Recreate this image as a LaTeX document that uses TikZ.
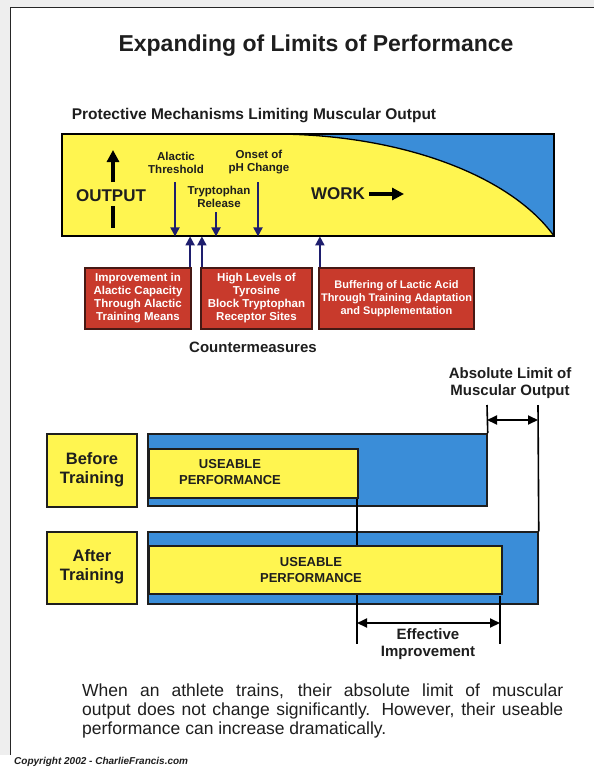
\documentclass[tikz,border=0pt]{standalone}
\usepackage{fontspec}
\setmainfont{Liberation Sans}
\usetikzlibrary{arrows.meta}
\definecolor{yel}{RGB}{255,245,80}
\definecolor{blu}{RGB}{58,141,216}
\definecolor{redf}{RGB}{200,58,44}
\definecolor{redb}{RGB}{70,25,20}
\definecolor{navy}{RGB}{30,30,110}
\definecolor{txt}{RGB}{30,30,30}
\definecolor{pagegray}{RGB}{238,238,238}
\newcommand{\fsz}[2]{\fontsize{#1}{#2}\selectfont}
\begin{document}
\begin{tikzpicture}[x=1pt,y=-1pt,
  ttl/.style={font=\bfseries\fsz{23}{27}, text=txt, inner sep=0},
  hd/.style={font=\bfseries\fsz{15.5}{18}, text=txt, inner sep=0},
  big/.style={font=\bfseries\fsz{17}{20}, text=txt, inner sep=0},
  lbl/.style={font=\bfseries\fsz{11.5}{13}, text=txt, align=center, inner sep=0},
  redbox/.style={draw=redb, fill=redf, line width=1.2pt, text=white,
    font=\bfseries\fsz{11.5}{13}, align=center, minimum height=61pt, inner sep=0},
  ybox/.style={draw=txt, fill=yel, line width=1.5pt, inner sep=0},
  bbox/.style={draw=txt, fill=blu, line width=1.5pt, inner sep=0},
  sidelbl/.style={font=\bfseries\fsz{16.5}{19.5}, text=txt, align=center},
  usel/.style={font=\bfseries\fsz{13}{15.5}, text=txt, align=center, inner sep=0},
  lim/.style={font=\bfseries\fsz{15}{17}, text=txt, align=center, inner sep=0},
  navyarr/.style={draw=navy, line width=2pt, -{Triangle[width=9pt,length=9pt]}},
  bigarr/.style={draw=black, line width=4.5pt, -{Triangle[width=12pt,length=12pt]}},
  dbl/.style={draw=black, line width=2pt,
    {Triangle[width=9pt,length=10pt]}-{Triangle[width=9pt,length=10pt]}},
  vline/.style={draw=black, line width=1.6pt},
]
\useasboundingbox (0,0) rectangle (594,768);
% page
\fill[white] (0,0) rectangle (594,768);
\fill[pagegray] (0,0) rectangle (594,7);
\fill[pagegray] (0,0) rectangle (10,755);
\draw[line width=1.5pt, black!85] (594,7.5) -- (10.5,7.5) -- (10.5,755);

% titles
\node[ttl] (title) at (316,46) {Expanding of Limits of Performance};
\node[hd] (pm) at (254,116) {Protective Mechanisms Limiting Muscular Output};

% top box
\node[fill=yel, minimum width=492pt, minimum height=102pt, inner sep=0, anchor=north west] (pbox) at (62,134) {};
\fill[blu] (273,134) .. controls (400,134) and (510,175) .. (554,236) -- (554,134) -- cycle;
\draw[line width=1.3pt] (273,134) .. controls (400,134) and (510,175) .. (554,236);
\draw[line width=2pt] (pbox.north west) rectangle (pbox.south east);

\node[big] (outtxt) at (111,196) {OUTPUT};
\coordinate (oa1) at (113,182);
\coordinate (oa2) at (113,150);
\draw[bigarr] (oa1) -- (oa2);
\coordinate (ob1) at (113,206);
\coordinate (ob2) at (113,228);
\draw[line width=4.5pt] (ob1) -- (ob2);

\node[big] (worktxt) at (338,194) {WORK};
\coordinate (wa) at (369,194);
\coordinate (wb) at (404,194);
\draw[bigarr] (wa) -- (wb);

\node[lbl] (alac) at (176,162.5) {Alactic\\Threshold};
\node[lbl] (onset) at (259,162.5) {Onset of\\pH Change};
\node[lbl] (tryp) at (219,197) {Tryptophan\\Release};
\coordinate (alacs) at (175,182);
\coordinate (onsets) at (258,182);
\coordinate (tryps) at (216,212);
\draw[navyarr] (alacs) -- (alacs |- pbox.south);
\draw[navyarr] (onsets) -- (onsets |- pbox.south);
\draw[navyarr] (tryps) -- (tryps |- pbox.south);

% countermeasures
\node[redbox, minimum width=106pt] (r1) at (138,298.5) {Improvement in\\Alactic Capacity\\Through Alactic\\Training Means};
\node[redbox, minimum width=111pt] (r2) at (256.5,298.5) {High Levels of\\Tyrosine\\Block Tryptophan\\Receptor Sites};
\node[redbox, minimum width=155pt, font=\bfseries\fsz{11}{13}] (r3) at (396.5,298.5) {Buffering of Lactic Acid\\Through Training Adaptation\\and Supplementation};
\coordinate (u1) at ([xshift=-1.5pt]r1.north east);
\coordinate (u2) at ([xshift=1.5pt]r2.north west);
\coordinate (u3) at ([xshift=1.5pt]r3.north west);
\draw[navyarr] (u1) -- (u1 |- pbox.south);
\draw[navyarr] (u2) -- (u2 |- pbox.south);
\draw[navyarr] (u3) -- (u3 |- pbox.south);
\node[font=\bfseries\fsz{15}{18}, text=txt, inner sep=0] (counter) at (253,347) {Countermeasures};

% bottom comparison
\node[ybox, minimum width=90pt, minimum height=73pt] (bef) at (92,470.5) {};
\node[sidelbl] (beft) at (92,470) {Before\\Training};
\node[ybox, minimum width=90pt, minimum height=72pt] (aft) at (92,568) {};
\node[sidelbl] (aftt) at (92,567) {After\\Training};

\node[bbox, minimum width=339pt, minimum height=72pt] (bar1) at (317.5,470) {};
\node[bbox, minimum width=390pt, minimum height=72pt] (bar2) at (343,568) {};

\node[lim] (abs) at (510,383.5) {Absolute Limit of\\Muscular Output};
\coordinate (la) at (487,405);
\coordinate (lb) at (538,405);
\draw[vline] (la) -- (bar1.north east);
\draw[vline] (lb) -- (bar2.north east);
\coordinate (da) at (487,420);
\coordinate (db) at (538,420);
\draw[dbl] (da) -- (db);

\coordinate (e1) at (357,644);
\coordinate (e2) at (500,644);
\draw[vline] (357,497) -- (e1);
\draw[vline] (500,596) -- (e2);

\node[ybox, minimum width=209pt, minimum height=49pt, anchor=north west] (use1) at (148,448) {};
\node[ybox, minimum width=353pt, minimum height=48pt, anchor=north west] (use2) at (148,545) {};
\node[usel] (ut1) at (230,472) {USEABLE\\PERFORMANCE};
\node[usel] (ut2) at (311,570) {USEABLE\\PERFORMANCE};

\coordinate (ea) at (357,623);
\coordinate (eb) at (500,623);
\draw[dbl] (ea) -- (eb);
\node[lim] (eff) at (428,644.5) {Effective\\Improvement};

% paragraph
\node[anchor=north west, inner sep=0, text width=481pt, align=justify,
  font=\fsz{17.5}{19}, text=txt] (para) at (82,684)
  {When an athlete trains, their absolute limit of muscular\linebreak
   output does not change significantly.  However, their useable\linebreak
   performance can increase dramatically.};

\node[anchor=west, inner sep=0, font=\bfseries\itshape\fsz{10}{12}, text=txt] (copy) at (14,762)
  {Copyright 2002 - CharlieFrancis.com};
\end{tikzpicture}
\end{document}
